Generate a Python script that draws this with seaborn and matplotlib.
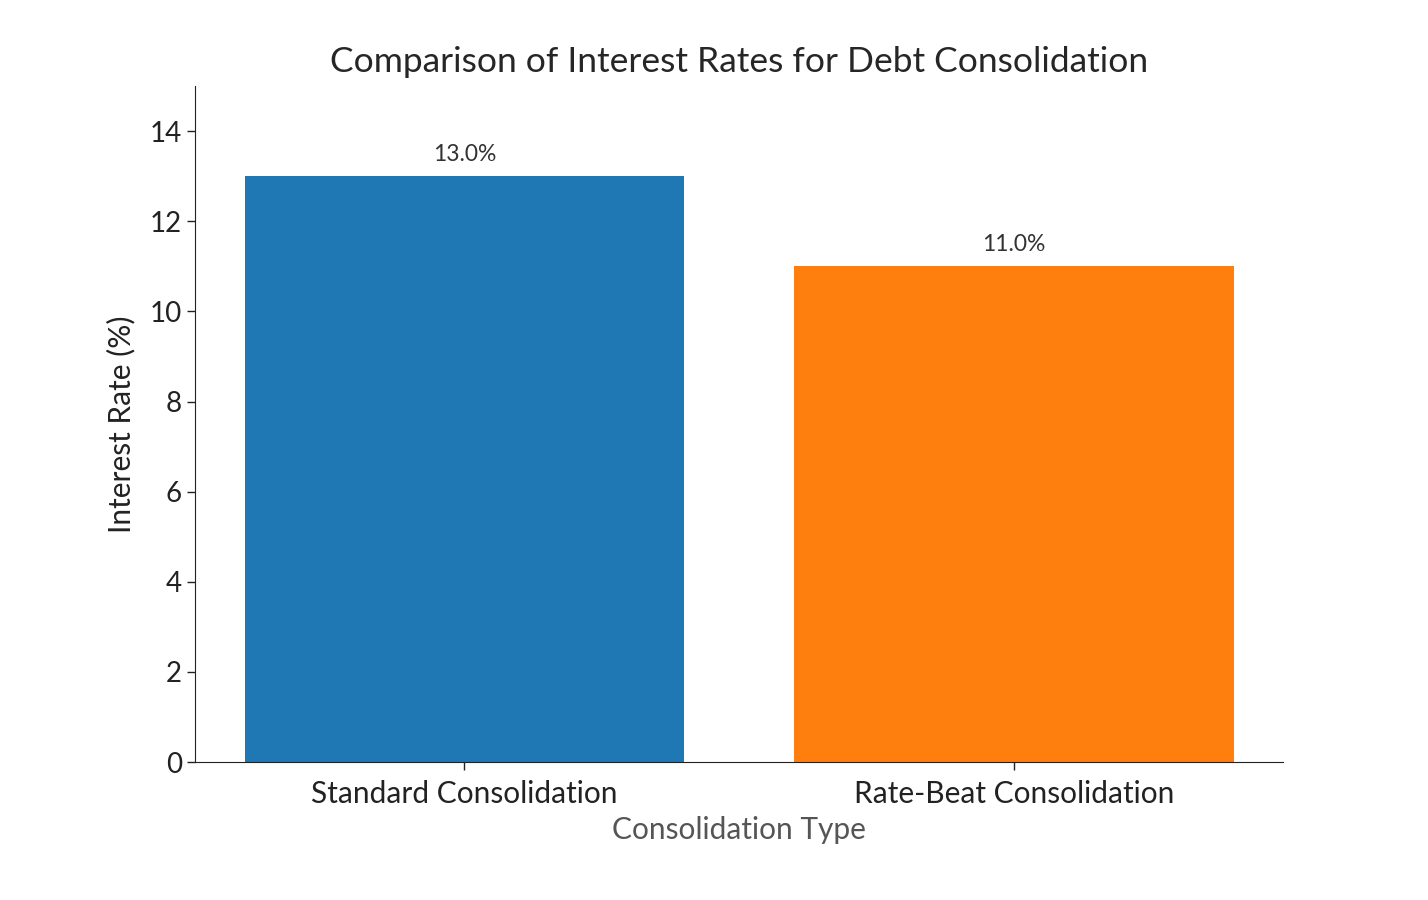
import pandas as pd
import matplotlib.pyplot as plt
import seaborn as sns

categories = ['Standard Consolidation', 'Rate-Beat Consolidation']
rates = [13.0, 11.0]
bar_colors = ['#1f77b4', '#ff7f0e']

sns.set_style('ticks')
plt.rcParams['font.family'] = ['Lato', 'DejaVu Sans']

df = pd.DataFrame({'type': categories, 'rate': rates})

fig = plt.figure(figsize=(14.28, 9), dpi=100)
ax = fig.add_axes([0.1366, 0.1533, 0.7619, 0.7511])
sns.barplot(data=df, x='type', y='rate', hue='type', palette=bar_colors,
            width=0.8, saturation=1, legend=False, linewidth=0, ax=ax)
ax.set_xlim(-0.49, 1.49)
ax.set_ylim(0, 15)

for i, v in enumerate(rates):
    ax.text(i, v + 0.25, f'{v:.1f}%', ha='center', va='bottom', fontsize=16.5, color='#333333')

ax.set_title('Comparison of Interest Rates for Debt Consolidation', fontsize=25.5, pad=10)
ax.set_xlabel('Consolidation Type', fontsize=21.5, color='#555555', labelpad=6)
ax.set_ylabel('Interest Rate (%)', fontsize=21.5, color='#222222', labelpad=10)
ax.tick_params(axis='x', labelsize=21.5, length=6, width=1, colors='#222222', pad=7)
ax.tick_params(axis='y', labelsize=20, length=6, width=1, colors='#222222')
for s in ['left', 'bottom']:
    ax.spines[s].set_color('#222222')
sns.despine(ax=ax)

fig.savefig('out.png', dpi=100)
